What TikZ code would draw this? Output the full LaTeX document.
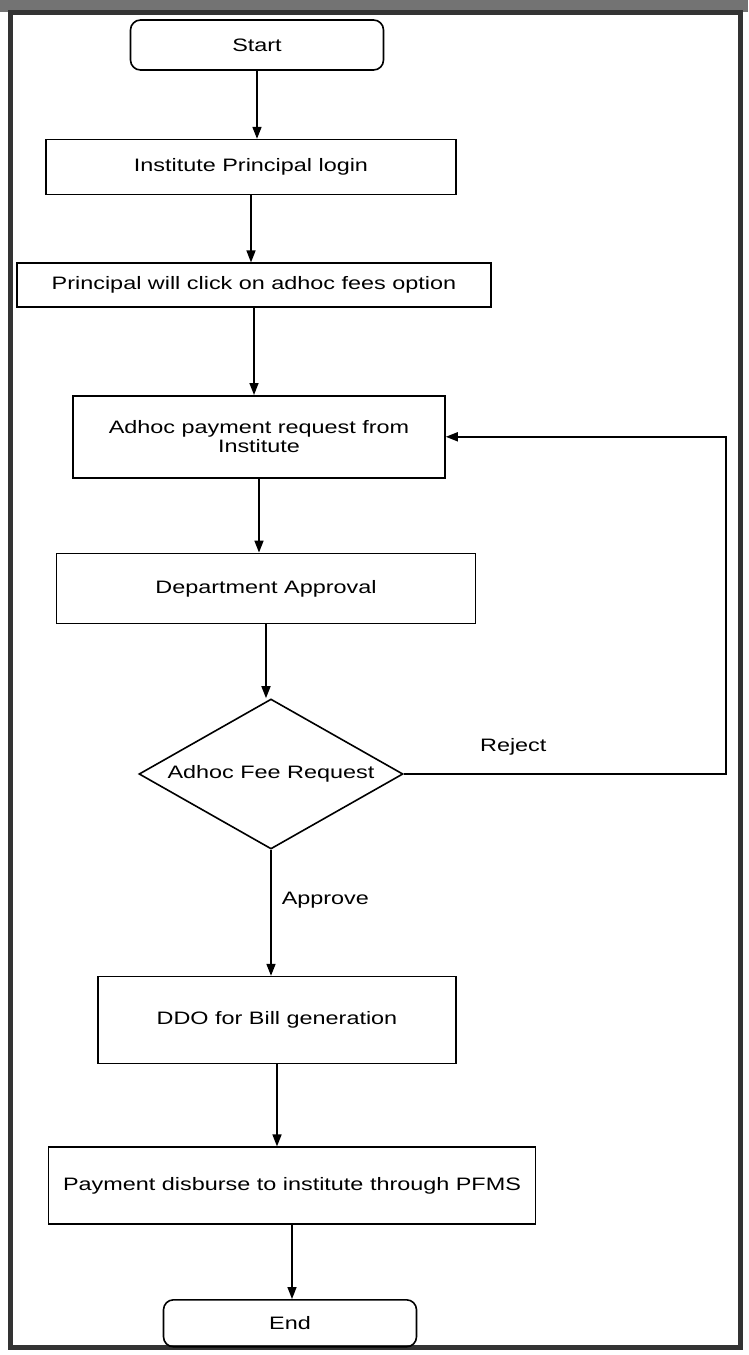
\documentclass[tikz,border=0pt]{standalone}
\usepackage{fontspec}
\setmainfont[FakeStretch=1.3]{Liberation Sans}
\usetikzlibrary{positioning,arrows.meta,shapes.geometric}
\tikzset{
  box/.style  = {rectangle, draw, line width=1.6pt, align=center,
                 inner sep=2pt, font=\fontsize{18}{19}\selectfont},
  term/.style = {box, rounded corners=10pt,
                 minimum width=253pt, minimum height=50pt},
  dec/.style  = {diamond, draw, line width=1.6pt, inner sep=0pt, aspect=1.76,
                 minimum width=264pt, minimum height=150pt,
                 font=\fontsize{18}{19}\selectfont},
  arr/.style  = {-{Triangle[length=12pt,width=9pt]}, line width=1.6pt},
  lab/.style  = {inner sep=0pt, font=\fontsize{18}{19}\selectfont}
}
\begin{document}
\begin{tikzpicture}[x=1pt,y=-1pt]
  \useasboundingbox (0,0) rectangle (748,1355);
  \fill[black!55] (0,0) rectangle (748,12);
  \draw[line width=5pt,black!80] (10,12) rectangle (740,1347);

  \node[term] (start) at (257,45) {Start};
  \node[box,minimum width=410pt,minimum height=55pt,below=68pt of start,xshift=-6pt] (login) {Institute Principal login};
  \node[box,minimum width=474pt,minimum height=44pt,below=67pt of login,xshift=3pt] (click) {Principal will click on adhoc fees option};
  \node[box,minimum width=372pt,minimum height=82pt,below=87pt of click,xshift=5pt] (req) {Adhoc payment request from\\Institute};
  \node[box,minimum width=419pt,minimum height=70pt,below=74pt of req,xshift=7pt] (dept) {Department Approval};
  \node[dec,below=74pt of dept,xshift=5pt] (fee) {Adhoc Fee Request};
  \node[box,minimum width=358pt,minimum height=87pt,below=126pt of fee,xshift=6pt] (ddo) {DDO for Bill generation};
  \node[box,minimum width=487pt,minimum height=77pt,below=82pt of ddo,xshift=15pt] (pfms) {Payment disburse to institute through PFMS};
  \node[term,minimum height=47pt,below=74pt of pfms,xshift=-2pt] (end) {End};

  \draw[arr](start.south)--(start.south |- login.north);
  \draw[arr](login.south)--(login.south |- click.north);
  \draw[arr](click.south)--(click.south |- req.north);
  \draw[arr](req.south)--(req.south |- dept.north);
  \draw[arr](dept.south)--(dept.south |- fee.north);
  \draw[arr](fee.south)--node[lab,pos=0.4,right=10pt]{Approve}(fee.south |- ddo.north);
  \draw[arr](ddo.south)--(ddo.south |- pfms.north);
  \draw[arr](pfms.south)--(pfms.south |- end.north);
  \draw[arr](fee.east)--node[lab,pos=0.34,above=18pt]{Reject}++(322,0)|-(req.east);
\end{tikzpicture}
\end{document}
